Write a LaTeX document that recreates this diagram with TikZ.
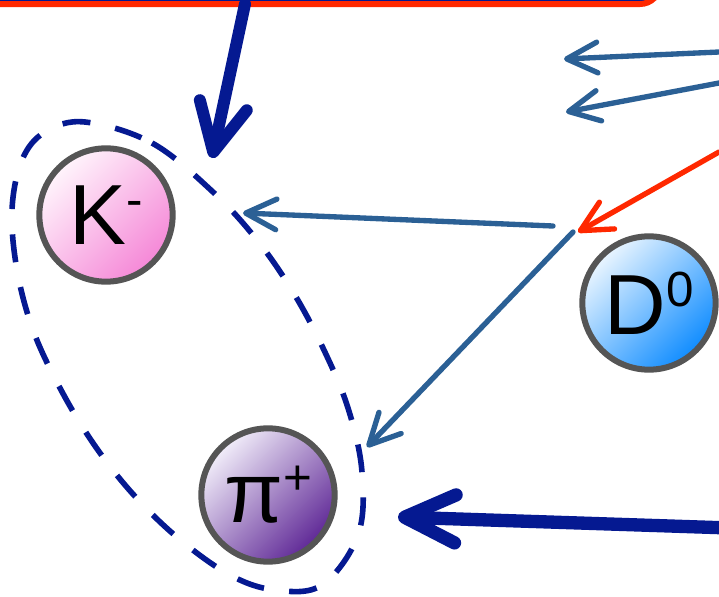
\documentclass[tikz,border=0pt]{standalone}
\usepackage{fontspec}
\setmainfont{Liberation Sans}
\usetikzlibrary{arrows.meta}
\definecolor{navy}{RGB}{5,25,145}
\definecolor{steel}{RGB}{43,96,149}
\definecolor{hotred}{RGB}{255,40,0}
\definecolor{rimgray}{RGB}{85,85,85}
\definecolor{pinkL}{RGB}{255,245,252}
\definecolor{pinkD}{RGB}{245,135,215}
\definecolor{blueL}{RGB}{235,246,255}
\definecolor{blueD}{RGB}{15,140,255}
\definecolor{purpL}{RGB}{242,238,250}
\definecolor{purpD}{RGB}{95,40,150}
\newcommand\partsup[1]{\raisebox{21pt}{\fontsize{37}{37}\selectfont #1}}
\tikzset{
  particle/.style={circle, draw=rimgray, line width=4.5pt, minimum size=100pt, inner sep=0pt,
    font=\fontsize{64}{64}\selectfont},
  kaon/.style={particle, top color=pinkL, bottom color=pinkD, shading angle=45},
  dmeson/.style={particle, top color=blueL, bottom color=blueD, shading angle=45},
  pion/.style={particle, top color=purpL, bottom color=purpD, shading angle=45},
  bigarrow/.style={draw=navy, line width=9pt, line cap=round,
    -{Straight Barb[length=36pt, width=36pt, round]}},
  biggerarrow/.style={draw=navy, line width=10pt, line cap=round,
    -{Straight Barb[length=38pt, width=36pt, round]}},
  thinarrow/.style={draw=steel, line width=4pt, line cap=round,
    -{Straight Barb[length=23pt, width=23pt, round]}},
  redarrow/.style={thinarrow, draw=hotred},
  grouping/.style={draw=navy, line width=4.2pt, dash pattern=on 21pt off 19pt},
  topbox/.style={draw=hotred, fill=navy, line width=4.5pt, rounded corners=15pt}
}
\begin{document}
\begin{tikzpicture}[x=0.75pt, y=-0.75pt]
\useasboundingbox (0,0) rectangle (719,597);

% partly visible box at the top
\path[topbox] (-60,-80) rectangle (660,4);

% dashed grouping around K- and pi+
\draw[grouping] plot[smooth cycle, tension=0.6] coordinates {
  (85,122) (152,143) (213,192) (257,240) (293,292) (323,348) (348,408)
  (362,472) (358,535) (322,585) (275,590) (230,575) (178,538) (132,493)
  (93,443) (60,388) (33,330) (17,270) (12,210) (22,160) (45,132)};

% particles
\node[kaon]   (K)  at (106,215) {K\partsup{-}};
\node[dmeson] (D)  at (649,303) {D\partsup{0}};
\node[pion]   (P)  at (268,495) {π\partsup{+}};

% connector end points
\coordinate (boxout) at (245,4);
\coordinate (groupin) at (212,158);
\coordinate (s1a) at (719,52);
\coordinate (s1b) at (564,59);
\coordinate (s2a) at (719,83);
\coordinate (s2b) at (566,112);
\coordinate (r1) at (719,152);
\coordinate (r2) at (578,232);
\coordinate (k1) at (553,226);
\coordinate (k2) at (243,213);
\coordinate (p1) at (573,232);
\coordinate (p2) at (367,447);
\coordinate (b1) at (730,528);
\coordinate (b2) at (398,517);

\draw[bigarrow] (boxout) -- (groupin);
\draw[thinarrow] (s1a) -- (s1b);
\draw[thinarrow] (s2a) -- (s2b);
\draw[redarrow] (r1) -- (r2);
\draw[thinarrow] (k1) -- (k2);
\draw[thinarrow] (p1) -- (p2);
\draw[biggerarrow] (b1) -- (b2);
\end{tikzpicture}
\end{document}
